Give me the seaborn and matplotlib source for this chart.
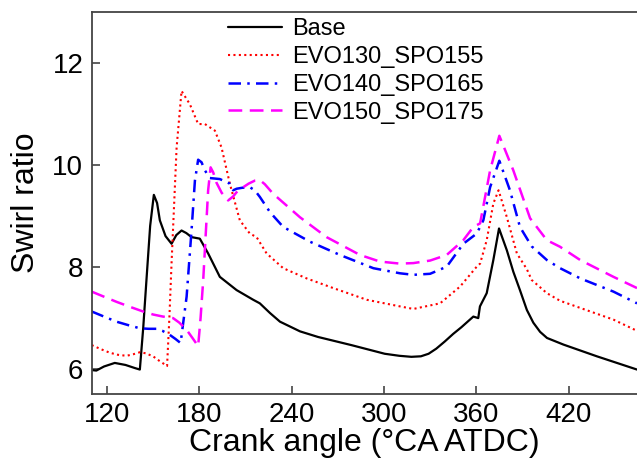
import matplotlib
matplotlib.use("Agg")
import matplotlib.pyplot as plt
import seaborn as sns
import pandas as pd

# ---- data ----
base_x = [110, 113, 118, 125, 132, 138, 141.3, 143.5, 145.6, 148, 150.4, 152.5, 154.3, 158, 161.9, 165, 168.4,
          171.5, 174.9, 180.3, 185.7, 193.3, 204.2, 215, 219.3, 225.9, 232.4, 245.4, 257.1, 278.8, 300.5, 310,
          317.8, 324, 329, 334, 339.5, 345, 350.3, 358.1, 361.3, 362.4, 366.8, 371.1, 374.8, 379.9, 384.1, 388.4,
          392.9, 397.1, 401.5, 406, 416.7, 438.4, 464.5]
base_y = [5.97, 5.96, 6.04, 6.11, 6.07, 6.01, 5.98, 6.8, 7.74, 8.8, 9.41, 9.25, 8.91, 8.6, 8.45, 8.62, 8.71,
          8.66, 8.58, 8.55, 8.26, 7.80, 7.54, 7.35, 7.28, 7.09, 6.92, 6.73, 6.62, 6.46, 6.29, 6.25,
          6.23, 6.24, 6.29, 6.39, 6.53, 6.68, 6.81, 7.02, 6.99, 7.22, 7.48, 8.13, 8.75, 8.32, 7.9, 7.54,
          7.15, 6.9, 6.72, 6.6, 6.47, 6.24, 5.98]

evo130_x = [110, 116, 121.8, 127, 132.6, 137, 141.3, 145, 149.9, 154, 159, 160.5, 161.9, 165.2, 168.4, 173.8,
            179.2, 183.6, 190.1, 194.4, 199.8, 206.3, 212.8, 217.2, 223.7, 234.5, 249.7, 267, 288.8, 310.4, 319.1,
            336.5, 349.5, 360.3, 362.5, 366.8, 371.1, 374.5, 379.9, 386.4, 392.9, 396, 405.9, 414.5, 427.6, 449.2,
            464.5]
evo130_y = [6.46, 6.38, 6.31, 6.27, 6.25, 6.28, 6.32, 6.3, 6.24, 6.15, 6.05, 7.0, 8.06, 10.34, 11.45, 11.19,
            10.8, 10.8, 10.67, 10.34, 9.63, 8.91, 8.65, 8.58, 8.26, 7.97, 7.77, 7.58, 7.35, 7.22, 7.17,
            7.28, 7.61, 8.0, 8.06, 8.52, 9.24, 9.5, 8.97, 8.26, 7.95, 7.74, 7.48, 7.33, 7.19, 6.96,
            6.74]

evo140_x = [110, 118, 126.1, 134, 141.3, 147, 152.1, 156, 160.8, 164.5, 167.8, 169.5, 171.7, 174.9, 177.1,
            179.2, 181.4, 183.6, 186.8, 193.3, 199.8, 202, 204.2, 208, 212.8, 216, 219.3, 225.9, 234.5, 251.9,
            271.4, 293.1, 310.4, 319.1, 330, 340.8, 351.6, 360.3, 364.6, 369, 375, 381.9, 388.4, 396, 405.9,
            414.5, 427.6, 449.2, 464.5]
evo140_y = [7.12, 7.02, 6.92, 6.85, 6.79, 6.78, 6.78, 6.74, 6.66, 6.58, 6.5, 6.9, 7.41, 8.71, 9.69,
            10.1, 10.05, 9.89, 9.74, 9.72, 9.63, 9.5, 9.53, 9.55, 9.56, 9.5, 9.37, 9.07, 8.78, 8.49,
            8.23, 7.97, 7.87, 7.84, 7.86, 8.0, 8.45, 8.65, 8.91, 9.56, 10.08, 9.5, 8.78, 8.4, 8.13,
            7.97, 7.77, 7.51, 7.28]

evo150_x = [110, 118, 126.1, 135, 143.4, 150, 156.4, 162.9, 167, 171.7, 175.5, 179.2, 180.8, 182.5, 185.7,
            187.3, 189, 191.1, 194.5, 198.7, 202, 205.2, 208.5, 212, 216.1, 219.3, 222.5, 228, 245.4, 262.7,
            284.4, 297.4, 310.4, 319.1, 330, 340.8, 351.6, 358.1, 362.5, 369, 375, 384.1, 395, 405.9, 414.5,
            427.6, 449.2, 464.5]
evo150_y = [7.51, 7.41, 7.31, 7.21, 7.12, 7.06, 7.02, 6.99, 6.9, 6.76, 6.6, 6.44, 7.0, 7.74, 9.5,
            9.95, 9.85, 9.65, 9.45, 9.3, 9.38, 9.5, 9.56, 9.63, 9.69, 9.7, 9.62, 9.43, 8.97, 8.58,
            8.23, 8.1, 8.06, 8.07, 8.12, 8.23, 8.52, 8.78, 8.85, 9.89, 10.57, 9.89, 8.95, 8.52, 8.39,
            8.13, 7.80, 7.58]

series_names = ["Base", "EVO130_SPO155", "EVO140_SPO165", "EVO150_SPO175"]
x_ticks = [120, 180, 240, 300, 360, 420]
y_ticks = [6, 8, 10, 12]

sns.set_theme(style="white")
plt.rcParams["font.family"] = ["Liberation Sans", "DejaVu Sans"]
plt.rcParams["text.color"] = "black"
plt.rcParams["axes.labelcolor"] = "black"

fig = plt.figure(figsize=(6.37, 4.68), dpi=100)
ax = fig.add_axes([91.7 / 637, 1 - 394 / 468, 1 - 91.7 / 637, (394 - 12) / 468])

styles = [
    dict(color="black", linewidth=1.6, linestyle="-"),
    dict(color="#ff0000", linewidth=1.5, linestyle=(0, (1, 1.6))),
    dict(color="#0000ff", linewidth=1.8, linestyle=(0, (5, 2.5, 1, 2.5))),
    dict(color="#ff00ff", linewidth=1.8, linestyle=(0, (5.5, 3))),
]
data = [(base_x, base_y), (evo130_x, evo130_y), (evo140_x, evo140_y), (evo150_x, evo150_y)]
for name, (xs, ys), st in zip(series_names, data, styles):
    df = pd.DataFrame({"x": xs, "y": ys})
    sns.lineplot(data=df, x="x", y="y", ax=ax, label=name, sort=False, estimator=None, **st)

ax.set_xlim(110, 464.5)
ax.set_ylim(5.5, 13.0)
ax.set_xticks(x_ticks)
ax.set_yticks(y_ticks)
ax.set_xlabel("Crank angle (°CA ATDC)", fontsize=23, labelpad=0, color="black")
ax.set_ylabel("Swirl ratio", fontsize=23, labelpad=8, color="black")
ax.tick_params(axis="both", direction="in", length=6, width=1.2, colors="#444444",
               labelsize=20, labelcolor="black", pad=6, bottom=True, left=True)
for side in ["left", "bottom", "top"]:
    ax.spines[side].set_color("#444444")
    ax.spines[side].set_linewidth(1.3)
ax.spines["right"].set_visible(False)

leg = ax.legend(loc="upper left", bbox_to_anchor=(228 / 637, 1 - 18 / 468),
                bbox_transform=fig.transFigure, frameon=False, fontsize=17,
                handlelength=2.3, handletextpad=0.4, labelspacing=0.25,
                borderpad=0, borderaxespad=0)
for t in leg.get_texts():
    t.set_color("black")

fig.savefig("out.png", dpi=100)
